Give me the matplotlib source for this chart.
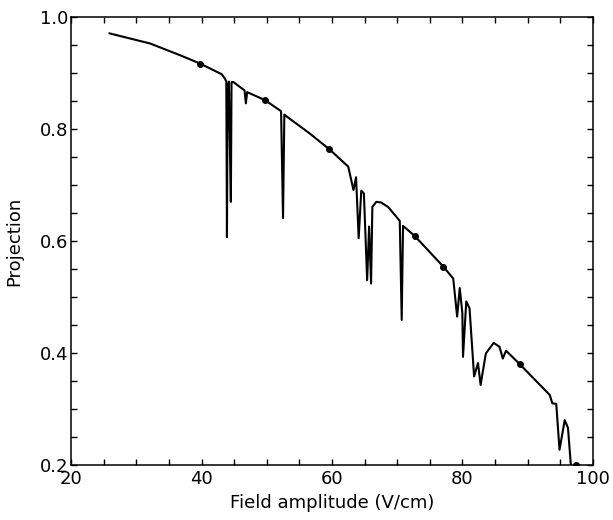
import numpy as np
import matplotlib.pyplot as plt
from matplotlib.ticker import MultipleLocator

# curve
field = [25.9, 32.1, 36.7, 39.8, 43.1, 43.6, 43.8, 43.9, 44.0, 44.1, 44.2, 44.3, 44.5, 44.6, 44.9,
         46.6, 46.8, 47.0, 49.7, 52.2, 52.5, 52.7, 53.0, 56.5, 59.6, 62.5, 63.3, 63.7,
         64.1, 64.5, 64.9, 65.4, 65.7, 66.0, 66.2, 66.8, 67.5, 68.6, 70.4, 70.7, 70.9,
         72.7, 77.1, 78.6, 79.2, 79.6, 80.0, 80.1, 80.6, 81.1, 81.8, 82.4, 82.8, 83.6,
         84.8, 85.7, 86.2, 86.7, 88.8, 93.4, 93.8, 94.4, 94.9, 95.7, 96.2, 96.7]
proj = [0.971, 0.953, 0.932, 0.917, 0.898, 0.890, 0.885, 0.607, 0.880, 0.860, 0.885, 0.800, 0.670, 0.884, 0.884,
        0.869, 0.846, 0.866, 0.852, 0.832, 0.641, 0.826, 0.823, 0.793, 0.764, 0.733, 0.691, 0.714,
        0.605, 0.690, 0.685, 0.530, 0.626, 0.524, 0.661, 0.670, 0.669, 0.661, 0.636, 0.459, 0.627,
        0.609, 0.554, 0.533, 0.465, 0.516, 0.471, 0.393, 0.492, 0.480, 0.358, 0.382, 0.343, 0.399,
        0.418, 0.411, 0.390, 0.404, 0.380, 0.325, 0.310, 0.309, 0.227, 0.280, 0.266, 0.190]

# marked points
dot_x = [39.8, 49.7, 59.6, 72.7, 77.1, 88.8, 97.5]
dot_y = [0.917, 0.852, 0.764, 0.609, 0.554, 0.380, 0.200]

fig = plt.figure(figsize=(6.13, 5.2), dpi=100)
ax = fig.add_axes([0.116, 0.106, 0.851, 0.861])

ax.plot(field, proj, color='black', lw=1.5, solid_joinstyle='round')
ax.plot(dot_x, dot_y, 'o', color='black', ms=4)

ax.set_xlim(20, 100)
ax.set_ylim(0.2, 1.0)
ax.xaxis.set_major_locator(MultipleLocator(20))
ax.xaxis.set_minor_locator(MultipleLocator(5))
ax.yaxis.set_major_locator(MultipleLocator(0.2))
ax.yaxis.set_minor_locator(MultipleLocator(0.05))
ax.tick_params(which='both', direction='in', top=True, right=True, length=4, width=1, labelsize=13)
ax.tick_params(axis='x', pad=4)
ax.tick_params(axis='y', pad=2)
for s in ax.spines.values():
    s.set_linewidth(1.1)
# the reference sets the y labels a touch above their ticks
for lab in ax.get_yticklabels():
    lab.set_verticalalignment('center_baseline')

ax.set_xlabel('Field amplitude (V/cm)', fontsize=13, labelpad=4)
ax.set_ylabel('Projection', fontsize=13, labelpad=12)

fig.savefig('out.png', dpi=100)
